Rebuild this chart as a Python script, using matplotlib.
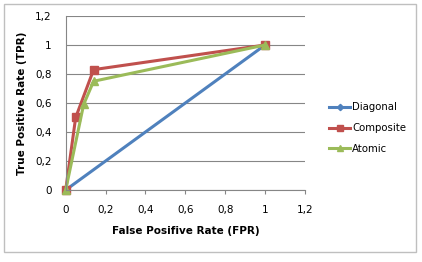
import matplotlib
matplotlib.use("Agg")
import matplotlib.pyplot as plt
from matplotlib.patches import Rectangle
from matplotlib.ticker import FuncFormatter

diag_x = [0, 1]
diag_y = [0, 1]
comp_x = [0, 0.05, 0.14, 1]
comp_y = [0, 0.50, 0.83, 1]
atom_x = [0, 0.09, 0.14, 1]
atom_y = [0, 0.59, 0.75, 1]

plt.rcParams['font.family'] = ['DejaVu Sans']
fig = plt.figure(figsize=(4.22, 2.62), dpi=100)
ax = fig.add_axes([0.1557, 0.2748, 0.567, 0.6642])

ax.plot(diag_x, diag_y, color='#4F81BD', lw=2.2, marker='D', ms=4, label='Diagonal', clip_on=False)
ax.plot(comp_x, comp_y, color='#C0504D', lw=2.2, marker='s', ms=6, label='Composite', clip_on=False)
ax.plot(atom_x, atom_y, color='#9BBB59', lw=2.2, marker='^', ms=6, label='Atomic', clip_on=False)

ax.set_xlim(0, 1.2)
ax.set_ylim(0, 1.2)
ticks = [0, 0.2, 0.4, 0.6, 0.8, 1, 1.2]
ax.set_xticks(ticks)
ax.set_yticks(ticks)
fmt = FuncFormatter(lambda v, p: ('%g' % round(v, 2)).replace('.', ','))
ax.xaxis.set_major_formatter(fmt)
ax.yaxis.set_major_formatter(fmt)
ax.tick_params(labelsize=7.5, color='#868686', length=3)
ax.tick_params(axis='x', pad=8)
ax.tick_params(axis='y', pad=10, length=0)
ax.grid(axis='y', color='#868686', lw=0.8)
ax.set_axisbelow(True)
for s in ['top', 'right']:
    ax.spines[s].set_visible(False)
for s in ['left', 'bottom']:
    ax.spines[s].set_color('#868686')

ax.set_xlabel('False Posifive Rate (FPR)', fontsize=7.5, fontweight='bold', labelpad=8)
ax.set_ylabel('True Positive Rate (TPR)', fontsize=7.5, fontweight='bold', labelpad=6)

leg = ax.legend(loc='center left', bbox_to_anchor=(1.1, 0.356), frameon=False,
                fontsize=7.3, handlelength=2.1, handletextpad=0.2, labelspacing=1.05,
                borderpad=0, borderaxespad=0, markerscale=0.8)

fig.patches.append(Rectangle((4 / 422, 10 / 262), 412 / 422, 248 / 262,
                             transform=fig.transFigure, fill=False,
                             edgecolor='#BFBFBF', lw=1))

fig.savefig('out.png', dpi=100)
